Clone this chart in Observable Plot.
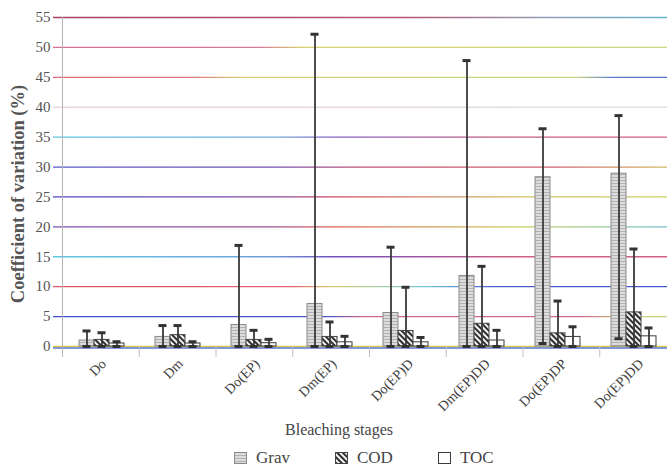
<!DOCTYPE html>
<html>
<head>
<meta charset="utf-8">
<script src="https://cdn.jsdelivr.net/npm/d3@7"></script>
<script src="https://cdn.jsdelivr.net/npm/@observablehq/plot@0.6"></script>
<style>
  body { margin: 0; background: #fff; font-family: "Liberation Serif", "Times New Roman", serif; }
  #chart { position: relative; width: 667px; height: 416px; }
  #chart > svg { position: absolute; left: 0; top: 0; }
  #xtitle { width: 667px; box-sizing: border-box; padding-left: 11px; margin-top: 4px; text-align: center;
            font-size: 16px; line-height: 20px; color: #444; }
  #legend { display: flex; align-items: center; margin-top: 10px; margin-left: 234px; height: 16px; line-height: 16px;
            font-size: 17px; color: #444; }
  #legend .item { display: flex; align-items: center; margin-right: 45px; }
  #legend .item svg { margin-right: 9px; }
</style>
</head>
<body>
<svg width="0" height="0" style="position:absolute"><defs id="defs"></defs></svg>
<div id="chart"></div>
<div id="xtitle">Bleaching stages</div>
<div id="legend"></div>
<script>
// Bleaching stages and the three measured series
const stages = ["Do", "Dm", "Do(EP)", "Dm(EP)", "Do(EP)D", "Dm(EP)DD", "Do(EP)DP", "Do(EP)DD"];
const series = ["Grav", "COD", "TOC"];

// Coefficient of variation (%) with error-bar ends
const gravMean = [1.0, 1.6, 3.6, 7.1, 5.6, 11.8, 28.3, 28.9];
const gravHigh = [2.6, 3.5, 16.9, 52.2, 16.6, 47.8, 36.4, 38.6];
const gravLow  = [0, 0, 0, 0, 0, 0, 0.5, 1.3];
const codMean  = [1.1, 1.9, 1.1, 1.6, 2.6, 3.8, 2.2, 5.7];
const codHigh  = [2.3, 3.5, 2.7, 4.1, 9.9, 13.4, 7.6, 16.3];
const codLow   = [0, 0, 0, 0, 0, 0, 0, 0];
const tocMean  = [0.5, 0.5, 0.55, 0.7, 0.7, 1.0, 1.6, 1.7];
const tocHigh  = [0.8, 0.8, 1.2, 1.7, 1.5, 2.7, 3.3, 3.1];
const tocLow   = [0, 0, 0, 0, 0, 0, 0, 0];

// y-axis tick values
const yTicks = [0, 5, 10, 15, 20, 25, 30, 35, 40, 45, 50, 55];

// long table for the faceted bars
const table = {Grav: [gravMean, gravLow, gravHigh], COD: [codMean, codLow, codHigh], TOC: [tocMean, tocLow, tocHigh]};
const rows = [];
stages.forEach((stage, i) => {
  for (const s of series) {
    const [m, lo, hi] = table[s];
    rows.push({stage, series: s, value: m[i], low: lo[i], high: hi[i]});
  }
});

// fills and outlines of each series
const fills = {Grav: "url(#pat-grav)", COD: "url(#pat-cod)", TOC: "#ffffff"};
const outlines = {Grav: "#8a8a8a", COD: "#444444", TOC: "#3a3a3a"};

// multi-tone gridline strokes (offset along the line, colour)
const gridTones = {
  55: [[0, "#a8405c"], [0.55, "#b85070"], [0.8, "#90a0b8"], [1, "#60b8d0"]],
  50: [[0, "#d87090"], [0.33, "#d87898"], [0.4, "#d8d070"], [1, "#c8d878"]],
  45: [[0, "#e06878"], [0.22, "#e07080"], [0.3, "#d8d070"], [0.84, "#c8d480"], [0.9, "#5878d0"], [1, "#5070d0"]],
  40: [[0, "#ead4da"], [1, "#e2e2da"]],
  35: [[0, "#60c4e0"], [0.35, "#70b0e0"], [0.45, "#8060c8"], [0.7, "#c05880"], [1, "#d06080"]],
  30: [[0, "#5858c8"], [0.35, "#7050b0"], [0.5, "#c05070"], [0.8, "#d06070"], [1, "#d0c060"]],
  25: [[0, "#5048c0"], [0.35, "#8048a0"], [0.45, "#d04860"], [0.75, "#d0c060"], [1, "#c8d060"]],
  20: [[0, "#7850b8"], [0.35, "#a05090"], [0.45, "#e06050"], [0.75, "#c8d060"], [1, "#70c0d0"]],
  15: [[0, "#60c8e0"], [0.35, "#70a0d8"], [0.45, "#7050c0"], [0.75, "#d06080"], [1, "#d06080"]],
  10: [[0, "#e05868"], [0.38, "#e06070"], [0.45, "#d8d070"], [0.6, "#70c8d8"], [0.7, "#5060d0"], [1, "#4858d0"]],
  5:  [[0, "#4050c8"], [0.44, "#4858c8"], [0.5, "#d06888"], [0.85, "#d06888"], [0.92, "#c8d080"], [1, "#c8d080"]]
};

const W = 667, H = 416;
const margin = {top: 17, right: -9, bottom: 70, left: 62};
const tickReach = 9;

// shared defs: hatch patterns and gridline gradients
const defs = d3.select("#defs");
const pg = defs.append("pattern").attr("id", "pat-grav").attr("patternUnits", "userSpaceOnUse")
  .attr("width", 3).attr("height", 3);
pg.append("rect").attr("width", 3).attr("height", 3).attr("fill", "#dcdcdc");
pg.append("rect").attr("width", 3).attr("height", 1).attr("fill", "#b2b2b2");
const pc = defs.append("pattern").attr("id", "pat-cod").attr("patternUnits", "userSpaceOnUse")
  .attr("width", 4).attr("height", 4).attr("patternTransform", "rotate(-45)");
pc.append("rect").attr("width", 4).attr("height", 4).attr("fill", "#f2f2f2");
pc.append("rect").attr("width", 2).attr("height", 4).attr("fill", "#2e2e2e");
for (const [v, stops] of Object.entries(gridTones)) {
  const g = defs.append("linearGradient").attr("id", `grid-${v}`).attr("gradientUnits", "userSpaceOnUse")
    .attr("x1", margin.left - tickReach).attr("x2", W - margin.right).attr("y1", 0).attr("y2", 0);
  for (const [o, c] of stops) g.append("stop").attr("offset", o).attr("stop-color", c);
}

// background layer: gridlines, y axis, category separators and labels
const back = Plot.plot({
  width: W, height: H,
  marginTop: margin.top, marginRight: margin.right, marginBottom: margin.bottom, marginLeft: margin.left,
  style: {fontFamily: "'Liberation Serif', 'Times New Roman', serif", fontSize: "15px", color: "#555", background: "white", overflow: "hidden"},
  x: {domain: [0, stages.length], axis: null},
  y: {domain: [0, 55], ticks: yTicks, tickSize: 0, tickPadding: 12, label: null},
  marks: [
    ...yTicks.filter(v => v > 0).map(v =>
      Plot.ruleY([v], {stroke: `url(#grid-${v})`, strokeWidth: 1.3, insetLeft: -tickReach})),
    Plot.ruleY([0], {stroke: "#d8c848", strokeWidth: 1.3, insetLeft: -tickReach}),
    Plot.ruleY([0], {stroke: "#5a74d0", strokeWidth: 1.3, insetLeft: -tickReach, dy: 1.5}),
    Plot.ruleX(d3.range(stages.length + 1), {y1: () => 0, stroke: "#c2c2c2", insetBottom: -11}),
    Plot.ruleX([0], {stroke: "#b4b4b4", insetBottom: -11}),
    Plot.text(stages, {x: (d, i) => i + 0.5, y: () => 0, text: d => d, rotate: -45, textAnchor: "end",
      dx: 3, dy: 15, fontSize: 14, fill: "#3c3c3c"}),
    Plot.text(["Coefficient of variation (%)"], {frameAnchor: "left", rotate: -90, textAnchor: "middle",
      dx: -44, dy: 12, fontSize: 18.5, fontWeight: "bold", fill: "#555"})
  ]
});

// foreground layer: grouped bars with error bars, one facet per stage
const front = Plot.plot({
  width: W, height: H,
  marginTop: margin.top, marginRight: margin.right, marginBottom: margin.bottom, marginLeft: margin.left,
  style: {background: "transparent", overflow: "hidden"},
  facet: {data: rows, x: "stage"},
  fx: {domain: stages, padding: 0, axis: null, label: null},
  x: {domain: series, paddingInner: 0, paddingOuter: 0.9, align: 0.45, axis: null},
  y: {domain: [0, 55], axis: null},
  color: {type: "identity"},
  marks: [
    Plot.barY(rows, {x: "series", y: "value", fill: d => fills[d.series], stroke: d => outlines[d.series], strokeWidth: 1}),
    Plot.ruleX(rows, {x: "series", y1: "low", y2: "high", stroke: "#3a3a3a", strokeWidth: 1.8}),
    Plot.tickY(rows, {x: "series", y: "high", stroke: "#333", strokeWidth: 3, insetLeft: 3.5, insetRight: 3.5}),
    Plot.tickY(rows, {x: "series", y: "low", stroke: "#333", strokeWidth: 3, insetLeft: 3.5, insetRight: 3.5})
  ]
});

const chart = document.getElementById("chart");
chart.append(back, front);

// legend
const legend = d3.select("#legend");
for (const s of series) {
  const item = legend.append("span").attr("class", "item");
  const sw = item.append("svg").attr("width", 13).attr("height", 12);
  sw.append("rect").attr("x", 0.5).attr("y", 0.5).attr("width", 12).attr("height", 11)
    .attr("fill", fills[s]).attr("stroke", outlines[s]);
  item.append("span").text(s);
}
</script>
</body>
</html>
